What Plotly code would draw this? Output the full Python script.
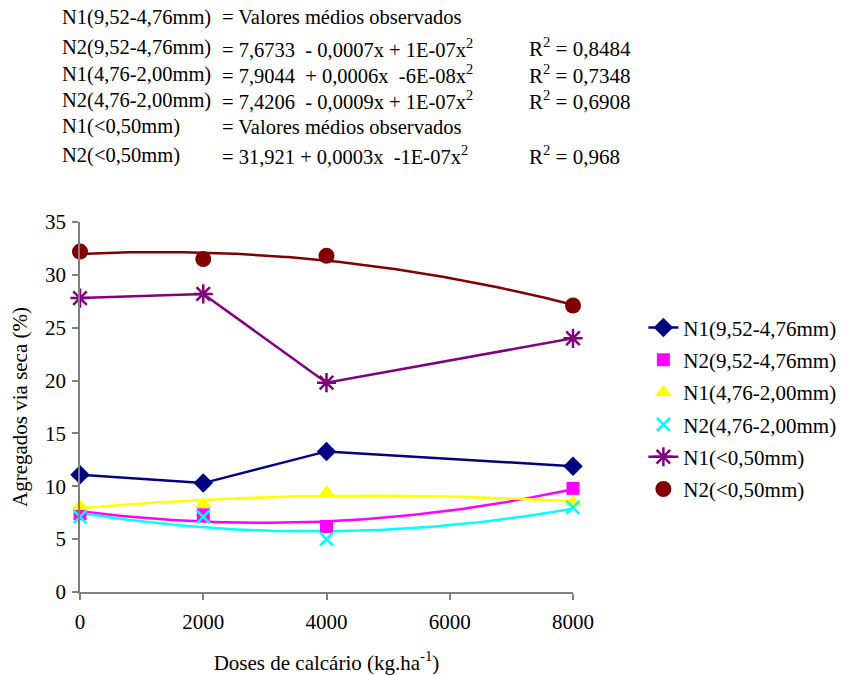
import numpy as np
import plotly.graph_objects as go

# ---------------- data ----------------
doses = [0, 2000, 4000, 8000]
n1_952 = [11.1, 10.3, 13.3, 11.9]
n2_952 = [7.4, 7.3, 6.2, 9.8]
n1_476 = [8.1, 8.3, 9.4, 8.5]
n2_476 = [7.1, 7.1, 5.0, 8.0]
n1_050 = [27.8, 28.2, 19.8, 24.0]
n2_050 = [32.2, 31.5, 31.8, 27.1]

names = ["N1(9,52-4,76mm)", "N2(9,52-4,76mm)", "N1(4,76-2,00mm)",
         "N2(4,76-2,00mm)", "N1(&lt;0,50mm)", "N2(&lt;0,50mm)"]

eq_labels = ["N1(9,52-4,76mm)", "N2(9,52-4,76mm)", "N1(4,76-2,00mm)",
             "N2(4,76-2,00mm)", "N1(&lt;0,50mm)", "N2(&lt;0,50mm)"]
eq_texts = ["= Valores médios observados",
            "= 7,6733 \u00a0- 0,0007x + 1E-07x<sup>2</sup>",
            "= 7,9044 \u00a0+ 0,0006x \u00a0-6E-08x<sup>2</sup>",
            "= 7,4206 \u00a0- 0,0009x + 1E-07x<sup>2</sup>",
            "= Valores médios observados",
            "= 31,921 + 0,0003x \u00a0-1E-07x<sup>2</sup>"]
r2_texts = ["", "R<sup>2</sup> = 0,8484", "R<sup>2</sup> = 0,7348",
            "R<sup>2</sup> = 0,6908", "", "R<sup>2</sup> = 0,968"]

FONT = "Liberation Serif, Times New Roman, DejaVu Serif, serif"
W, H = 841, 675
L, R, T, B = 80, 268, 222, 83

fig = go.Figure()

xs = np.linspace(min(doses), max(doses), 200)


def trend(yvals):
    c = np.polyfit(doses, yvals, 2)
    return np.polyval(c, xs)


styles = [
    dict(color="#000080", symbol="diamond", size=15, fit=False),
    dict(color="#FF00FF", symbol="square", size=13, fit=True),
    dict(color="#FFFF00", symbol="triangle-up", size=15, fit=True),
    dict(color="#00FFFF", symbol="x-thin", size=13, fit=True),
    dict(color="#800080", symbol="asterisk", size=16, fit=False),
    dict(color="#800000", symbol="circle", size=16, fit=True),
]
series = [n1_952, n2_952, n1_476, n2_476, n1_050, n2_050]

# trendlines first (drawn beneath markers)
for i, (s, yv) in enumerate(zip(styles, series)):
    if s["fit"]:
        fig.add_trace(go.Scatter(x=xs, y=trend(yv), mode="lines",
                                 line=dict(color=s["color"], width=2.5),
                                 showlegend=False, legendgroup=f"g{i}",
                                 hoverinfo="skip", cliponaxis=False))

for i, (s, yv, nm) in enumerate(zip(styles, series, names)):
    mode = "markers" if s["fit"] else "lines+markers"
    mk = dict(color=s["color"], symbol=s["symbol"], size=s["size"],
              line=dict(color=s["color"], width=0))
    if s["symbol"] in ("x-thin", "asterisk"):
        mk["line"] = dict(color=s["color"], width=2.5)
    fig.add_trace(go.Scatter(x=doses, y=yv, mode=mode, name=nm,
                             marker=mk,
                             line=dict(color=s["color"], width=2.5),
                             legendgroup=f"g{i}", cliponaxis=False))

# equations block
pw, ph = W - L - R, H - T - B
row_y = [17, 48, 74, 100, 127, 155]
col_x = [60, 220, 527]
col_size = [20.5, 20.5, 21]


def px2paper(x, y):
    return (x - L) / pw, (H - B - y) / ph


for ry, a, b, c in zip(row_y, eq_labels, eq_texts, r2_texts):
    for cx, fs, txt in zip(col_x, col_size, [a, b, c]):
        if not txt:
            continue
        px, py = px2paper(cx, ry)
        fig.add_annotation(x=px, y=py, xref="paper", yref="paper", text=txt,
                           showarrow=False, xanchor="left", yanchor="middle",
                           font=dict(family=FONT, size=fs, color="black"))

fig.update_layout(
    width=W, height=H,
    margin=dict(l=L, r=R, t=T, b=B, pad=0),
    paper_bgcolor="white", plot_bgcolor="white",
    font=dict(family=FONT, size=21, color="black"),
    legend=dict(xref="container", yref="container", x=0.765, y=0.395,
                xanchor="left", yanchor="middle",
                font=dict(family=FONT, size=21, color="black"),
                bgcolor="rgba(0,0,0,0)", tracegroupgap=2, itemwidth=30),
    xaxis=dict(range=[0, 8000], dtick=2000, tick0=0, showgrid=False,
               zeroline=False, showline=True, linecolor="#808080", linewidth=1.5,
               ticks="outside", ticklen=6, tickcolor="#808080", tickwidth=1.5,
               ticklabelstandoff=4, automargin=False,
               tickfont=dict(family=FONT, size=21, color="black"),
               title=dict(text="Doses de calcário (kg.ha<sup>-1</sup>)",
                          font=dict(family=FONT, size=21, color="black"),
                          standoff=24)),
    yaxis=dict(range=[0, 35], dtick=5, tick0=0, showgrid=False,
               zeroline=False, showline=True, linecolor="#808080", linewidth=1.5,
               ticks="outside", ticklen=6, tickcolor="#808080", tickwidth=1.5,
               ticklabelstandoff=2, automargin=False,
               tickfont=dict(family=FONT, size=21, color="black"),
               title=dict(text="Agregados via seca (%)",
                          font=dict(family=FONT, size=21, color="black"),
                          standoff=12)),
)

fig.write_html("out.html")
